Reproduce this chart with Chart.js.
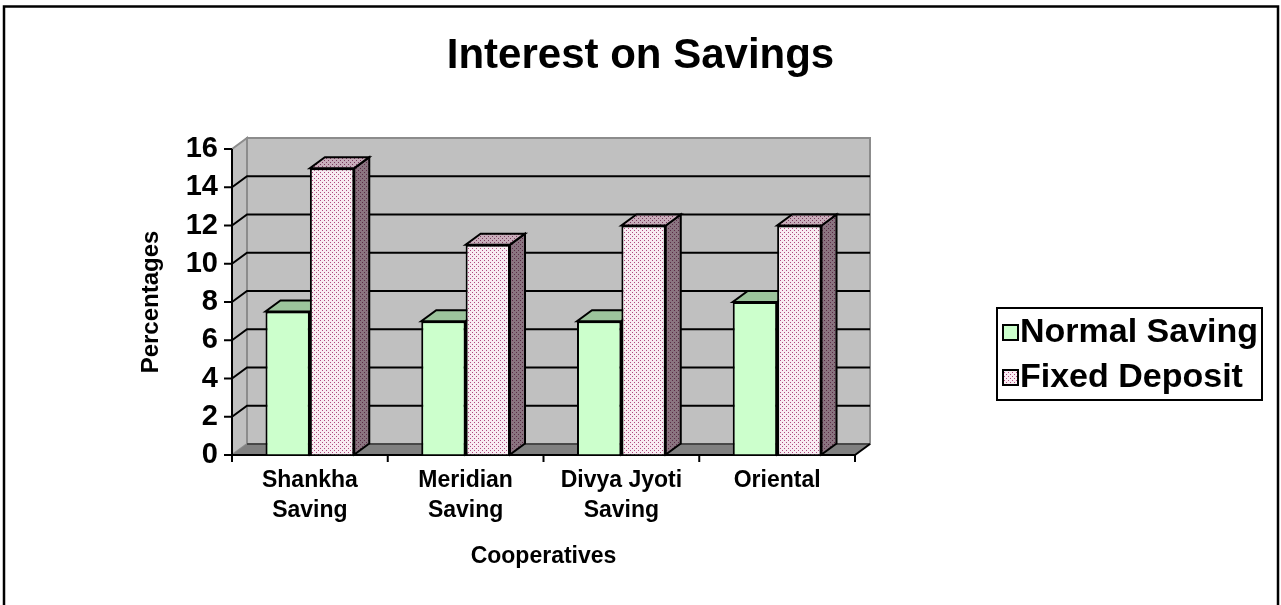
<!DOCTYPE html>
<html>
<head>
<meta charset="utf-8">
<script src="https://cdn.jsdelivr.net/npm/chart.js@4.4.0/dist/chart.umd.min.js"></script>
<style>
  html, body { margin: 0; padding: 0; background: #fff; }
  #chart { display: block; }
</style>
</head>
<body>
<canvas id="chart" width="1281" height="605"></canvas>
<script>
// values
const categories = [["Shankha", "Saving"], ["Meridian", "Saving"], ["Divya Jyoti", "Saving"], ["Oriental"]];
const normalSaving = [7.5, 7, 7, 8];
const fixedDeposit = [15, 11, 12, 12];
const yMin = 0, yMax = 16, yStep = 2;

// 3d depth offset of the walls and bars
const DX = 15, DY = -11;
const FONT = "'Liberation Sans', Arial, sans-serif";

function dotPattern(bg, dot) {
    const c = document.createElement("canvas");
    c.width = 4; c.height = 4;
    const g = c.getContext("2d");
    g.fillStyle = bg;
    g.fillRect(0, 0, 4, 4);
    g.fillStyle = dot;
    g.fillRect(0, 0, 1, 1);
    g.fillRect(2, 2, 1, 1);
    return g.createPattern(c, "repeat");
}

const pinkFront = dotPattern("#f8ecf2", "#b04a80");
const pinkTop = dotPattern("#c9aebb", "#7a3a5c");
const pinkSide = dotPattern("#8a7480", "#5a2a45");

const faceColors = [
    { top: "#9cc49c", side: "#7fa07f" },
    { top: pinkTop, side: pinkSide }
];

function poly(ctx, pts, fill, stroke, lw) {
    ctx.beginPath();
    ctx.moveTo(pts[0][0], pts[0][1]);
    for (let i = 1; i < pts.length; i++) ctx.lineTo(pts[i][0], pts[i][1]);
    ctx.closePath();
    if (fill) { ctx.fillStyle = fill; ctx.fill(); }
    if (stroke) { ctx.strokeStyle = stroke; ctx.lineWidth = lw || 2; ctx.stroke(); }
}

function line(ctx, pts, color, lw) {
    ctx.beginPath();
    ctx.moveTo(pts[0][0], pts[0][1]);
    for (let i = 1; i < pts.length; i++) ctx.lineTo(pts[i][0], pts[i][1]);
    ctx.strokeStyle = color;
    ctx.lineWidth = lw || 2;
    ctx.stroke();
}

const threeD = {
    id: "threeD",
    beforeDatasetsDraw(chart) {
        const { ctx, chartArea: a, scales: { x, y } } = chart;
        ctx.save();
        // back wall, side wall, floor
        poly(ctx, [[a.left + DX, a.top + DY], [a.right + DX, a.top + DY], [a.right + DX, a.bottom + DY], [a.left + DX, a.bottom + DY]], "#c0c0c0", "#8c8c8c", 2);
        poly(ctx, [[a.left, a.top], [a.left + DX, a.top + DY], [a.left + DX, a.bottom + DY], [a.left, a.bottom]], "#c0c0c0", "#8c8c8c", 2);
        poly(ctx, [[a.left, a.bottom], [a.right, a.bottom], [a.right + DX, a.bottom + DY], [a.left + DX, a.bottom + DY]], "#808080", null);
        line(ctx, [[a.left + DX, a.bottom + DY], [a.right + DX, a.bottom + DY]], "#333", 1.5);
        line(ctx, [[a.right, a.bottom], [a.right + DX, a.bottom + DY]], "#000", 2);

        // gridlines on the walls
        y.ticks.forEach(t => {
            if (t.value <= yMin || t.value >= yMax) return;
            const py = y.getPixelForValue(t.value);
            line(ctx, [[a.left, py], [a.left + DX, py + DY], [a.right + DX, py + DY]], "#000", 2);
        });

        // axes and tick marks
        line(ctx, [[a.left, a.top], [a.left, a.bottom]], "#000", 2);
        y.ticks.forEach(t => {
            const py = y.getPixelForValue(t.value);
            line(ctx, [[a.left - 8, py], [a.left, py]], "#000", 2);
        });
        line(ctx, [[a.left - 1, a.bottom], [a.right, a.bottom]], "#000", 2);
        const n = categories.length;
        for (let i = 0; i <= n; i++) {
            const px = a.left + i * (a.right - a.left) / n;
            line(ctx, [[px, a.bottom], [px, a.bottom + 7]], "#000", 2);
        }

        // top and side faces of the columns
        chart.data.datasets.forEach((ds, di) => {
            const meta = chart.getDatasetMeta(di);
            meta.data.forEach(bar => {
                const { x: cx, y: top, base, width } = bar.getProps(["x", "y", "base", "width"], true);
                const l = cx - width / 2, r = cx + width / 2;
                poly(ctx, [[r, top], [r + DX, top + DY], [r + DX, base + DY], [r, base]], faceColors[di].side, "#000", 2);
                poly(ctx, [[l, top], [r, top], [r + DX, top + DY], [l + DX, top + DY]], faceColors[di].top, "#000", 2);
            });
        });
        ctx.restore();
    },
    afterDraw(chart) {
        const { ctx } = chart;
        ctx.save();
        // legend box
        const lx = 997, ly = 308, lw = 265, lh = 92;
        ctx.strokeStyle = "#000";
        ctx.lineWidth = 2;
        ctx.strokeRect(lx, ly, lw, lh);
        ctx.font = "bold 34px " + FONT;
        ctx.textBaseline = "middle";
        ctx.textAlign = "left";
        chart.data.datasets.forEach((ds, i) => {
            const cy = ly + 24 + i * 45;
            ctx.fillStyle = ds.backgroundColor;
            ctx.fillRect(1003, cy - 7, 15, 15);
            ctx.lineWidth = 2;
            ctx.strokeRect(1003, cy - 7, 15, 15);
            ctx.fillStyle = "#000";
            ctx.fillText(ds.label, 1020, cy + 1);
        });
        // outer frame
        ctx.lineWidth = 2.5;
        ctx.strokeRect(4, 6.5, 1274, 700);
        ctx.restore();
    }
};

Chart.defaults.font.family = FONT;
Chart.defaults.font.weight = "bold";
Chart.defaults.color = "#000";

new Chart(document.getElementById("chart").getContext("2d"), {
    type: "bar",
    data: {
        labels: categories,
        datasets: [
            { label: "Normal Saving", data: normalSaving, backgroundColor: "#ccffcc", borderColor: "#000", borderWidth: 2 },
            { label: "Fixed Deposit", data: fixedDeposit, backgroundColor: pinkFront, borderColor: "#000", borderWidth: 2 }
        ]
    },
    options: {
        responsive: false,
        animation: false,
        devicePixelRatio: 1,
        categoryPercentage: 0.57,
        barPercentage: 1,
        layout: { padding: 0 },
        plugins: {
            legend: { display: false },
            tooltip: { enabled: false },
            title: {
                display: true,
                text: "Interest on Savings",
                font: { size: 42, weight: "bold" },
                color: "#000",
                padding: { top: 31, bottom: 67.6 }
            }
        },
        scales: {
            x: {
                grid: { color: "rgba(0,0,0,0)", tickLength: 7 },
                border: { display: false },
                ticks: { font: { size: 23, weight: "bold", lineHeight: 1.3 }, padding: 4, maxRotation: 0, autoSkip: false },
                title: { display: true, text: "Cooperatives", font: { size: 23, weight: "bold" }, padding: { top: 0, bottom: 35 } },
                afterFit(s) { s.height = 150; }
            },
            y: {
                min: yMin,
                max: yMax,
                grid: { color: "rgba(0,0,0,0)", tickLength: 8 },
                border: { display: false },
                ticks: { stepSize: yStep, font: { size: 29, weight: "bold" }, padding: 6 },
                title: { display: true, text: "Percentages", font: { size: 24, weight: "bold" }, padding: { top: 137, bottom: 0 } },
                afterFit(s) { s.width = 232; }
            },
            // empty right-hand axis that reserves the room where the legend sits
            side: {
                position: "right",
                display: true,
                grid: { display: false },
                border: { display: false },
                ticks: { display: false },
                afterFit(s) { s.width = 426; }
            }
        }
    },
    plugins: [threeD]
});
</script>
</body>
</html>
